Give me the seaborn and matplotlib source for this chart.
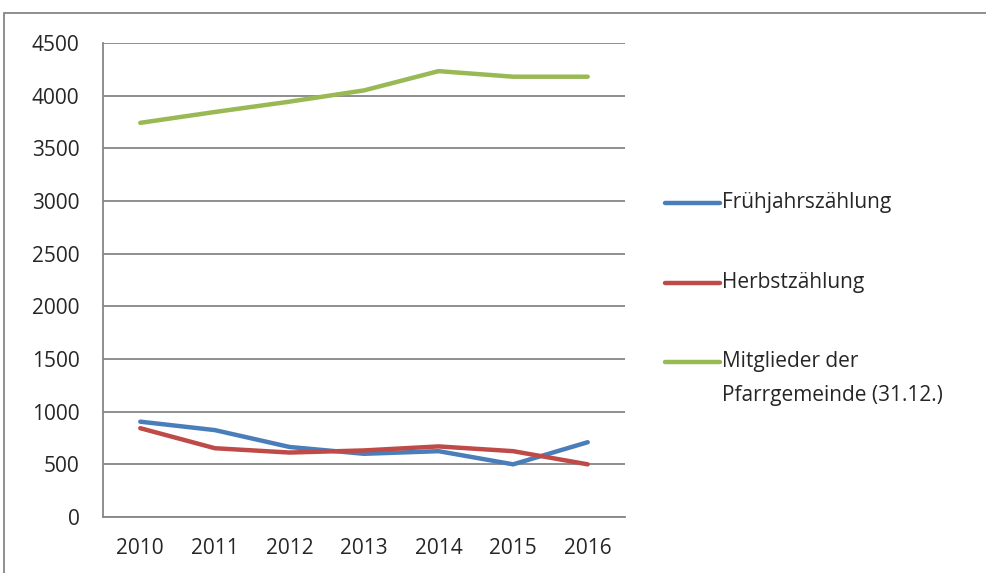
import numpy as np
import pandas as pd
import seaborn as sns
import matplotlib.pyplot as plt
from matplotlib.lines import Line2D
from matplotlib.patches import Rectangle

# Daten
jahre = ["2010", "2011", "2012", "2013", "2014", "2015", "2016"]
fruehjahr = [905, 825, 665, 600, 625, 500, 710]
herbst = [843, 653, 612, 632, 670, 625, 500]
mitglieder = [3742, 3845, 3943, 4050, 4233, 4180, 4180]

reihen = ["Frühjahrszählung", "Herbstzählung", "Mitglieder der\nPfarrgemeinde (31.12.)"]
farben = ["#4A7EBB", "#BE4B48", "#98B954"]

df = pd.DataFrame({
    "pos": list(range(len(jahre))) * 3,
    "wert": fruehjahr + herbst + mitglieder,
    "reihe": [reihen[0]] * 7 + [reihen[1]] * 7 + [reihen[2]] * 7,
})

sns.set_style("white")
plt.rcParams["font.family"] = ["Open Sans", "DejaVu Sans"]
fs = 15

fig = plt.figure(figsize=(9.87, 5.73), dpi=100)
ax = fig.add_axes([103 / 987, 1 - 517 / 573, 522 / 987, 474 / 573])

sns.lineplot(data=df, x="pos", y="wert", hue="reihe", palette=farben,
             linewidth=3.2, ax=ax, legend=False, solid_capstyle="round")

grau = "#868686"
ax.set_xlim(-0.5, 6.5)
ax.set_ylim(0, 4500)
ax.set_yticks(np.arange(0, 4501, 500))
ax.yaxis.grid(True, color=grau, linewidth=1.3)
ax.set_axisbelow(True)

# Striche zwischen den Kategorien, Beschriftung in der Mitte
ax.set_xticks(np.arange(-0.5, 7, 1))
ax.set_xticklabels([])
ax.set_xticks(range(len(jahre)), minor=True)
ax.set_xticklabels(jahre, minor=True)
ax.tick_params(axis="x", which="major", direction="out", length=6, width=1.3, color=grau)
ax.tick_params(axis="x", which="minor", length=0, pad=15, labelsize=fs)
ax.tick_params(axis="y", direction="out", length=6, width=1.3, color=grau, pad=11, labelsize=fs)
ax.set_xlabel("")
ax.set_ylabel("")

for s in ["top", "right"]:
    ax.spines[s].set_visible(False)
for s in ["left", "bottom"]:
    ax.spines[s].set_color(grau)
    ax.spines[s].set_linewidth(1.3)

# Legende rechts
leg_y = [203, 283, 362]
for name, farbe, y in zip(reihen, farben, leg_y):
    yf = 1 - y / 573
    fig.add_artist(Line2D([665 / 987, 720 / 987], [yf, yf], color=farbe,
                          linewidth=3.2, solid_capstyle="round"))
    for i, t in enumerate(name.split("\n")):
        fig.text(722 / 987, 1 - (y + i * 34) / 573, t, fontsize=fs,
                 va="center", ha="left")

# Rahmen des Diagramms
fig.add_artist(Rectangle((4 / 987, -0.1), 1.2, 1 - 13 / 573 + 0.1,
                         transform=fig.transFigure, fill=False,
                         edgecolor=grau, linewidth=1.3))

plt.savefig("out.png", dpi=100)
